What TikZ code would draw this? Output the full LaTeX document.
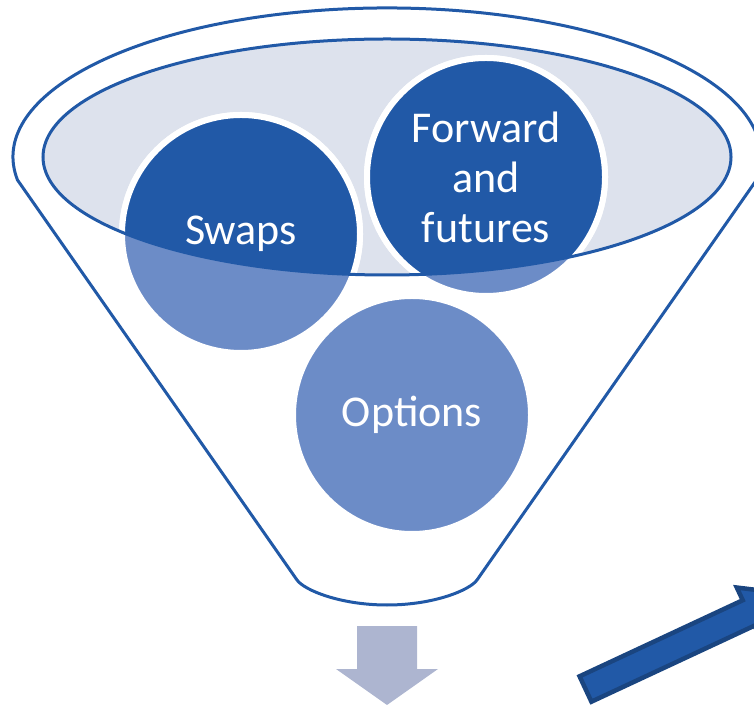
\documentclass[tikz,border=0pt]{standalone}
\usepackage{fontspec}
\setmainfont{Carlito}
\usepackage{tikz}

\definecolor{funnelblue}{HTML}{2159A7}
\definecolor{dotblue}{HTML}{6C8CC7}
\definecolor{rimgray}{HTML}{DDE2ED}
\definecolor{arrowgray}{HTML}{ADB5D0}
\definecolor{arrowedge}{HTML}{1A4580}

\begin{document}
\begin{tikzpicture}[x=1pt, y=1pt,
        ball/.style={circle, minimum size=238pt, inner sep=0pt, fill=dotblue, draw=white, line width=6pt},
        balltext/.style={text=white, align=center, font=\fontsize{44}{50}\selectfont}]
        \clip (0,0) rectangle (754,704);
        % funnel outline
        \draw[funnelblue, line width=3pt, line join=round] (17.5,524) arc[start angle=188.9, end angle=-8.9, x radius=374pt, y radius=149pt]
            -- (477,124) .. controls (470,114) and (434,99) .. (387,99) .. controls (340,99) and (304,114) .. (297,124) -- cycle;
        \fill[rimgray] (387,547) ellipse[x radius=344pt, y radius=118pt];
        % the three products
        \node[ball] (swaps) at (241,470) {};
        \node[ball] (fwd) at (486,527) {};
        \node[ball] (options) at (412,289) {};
        \begin{scope}
            \clip (387,547) ellipse[x radius=344pt, y radius=118pt];
            \filldraw[fill=funnelblue, draw=white, line width=6pt] (swaps.center) circle (119pt);
            \filldraw[fill=funnelblue, draw=white, line width=6pt] (fwd.center) circle (119pt);
        \end{scope}
        \draw[funnelblue, line width=3pt] (387,547) ellipse[x radius=344pt, y radius=118pt];
        \node[balltext] (swapslabel) at (swaps.center) {Swaps};
        \node[balltext] (fwdlabel) at (fwd.center) {Forward\\and\\futures};
        \node[balltext] (optionslabel) at (options.center) {Options};
        % arrows
        \fill[arrowgray] (357,78) -- (417,78) -- (417,35) -- (438,35) -- (387,-1) -- (336,35) -- (357,35) -- cycle;
        \draw[arrowedge, fill=funnelblue, line width=4.5pt, shift={(585.5,15)}, rotate=25]
            (0,-14) -- (180,-14) -- (180,-28) -- (225,0) -- (180,28) -- (180,14) -- (0,14) -- cycle;
    \end{tikzpicture}
\end{document}
